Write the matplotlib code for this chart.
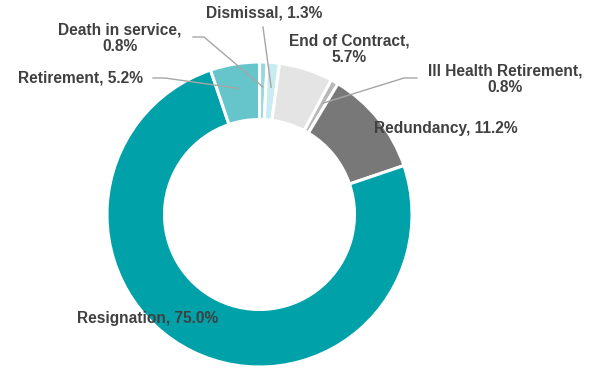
import numpy as np
import matplotlib
matplotlib.use("Agg")
from matplotlib import pyplot as plt

categories = ["Death in service", "Dismissal", "End of Contract", "Ill Health Retirement",
              "Redundancy", "Resignation", "Retirement"]
shares = [0.8, 1.3, 5.7, 0.8, 11.2, 75.0, 5.2]
label_texts = ["Death in service,\n0.8%", "Dismissal, 1.3%", "End of Contract,\n5.7%",
               "Ill Health Retirement,\n0.8%", "Redundancy, 11.2%", "Resignation, 75.0%",
               "Retirement, 5.2%"]
colors = ["#99d9dd", "#c8ecef", "#e4e4e4", "#b8b8b8", "#787878", "#00a1a8", "#66c5cb"]

W, H = 595, 368
cx, cy = 259.5, H - 214.5
R, ring = 152.5, 57.5

# label centres (pixels from top-left) and optional elbow for leader line
label_pos = [(120, 38), (264, 13), (349, 49), (505, 79), (446, 128), (148, 319), (80, 78)]
elbows = {0: [(204, 37), (193, 37)], 1: [(263, 27)], 3: [(404, 78), (417, 78)],
          6: [(165, 78), (153, 78)]}

fig = plt.figure(figsize=(W / 100, H / 100), dpi=100)
ax = fig.add_axes([0, 0, 1, 1])

wedges, _ = ax.pie(shares, colors=colors, startangle=90, counterclock=False,
                   center=(cx, cy), radius=R, frame=True,
                   wedgeprops=dict(width=ring, edgecolor="white", linewidth=2.2))
ax.set_xlim(0, W)
ax.set_ylim(0, H)
ax.set_aspect("equal")
ax.axis("off")

for i, w in enumerate(wedges):
    x, y = label_pos[i]
    ax.text(x, H - y, label_texts[i], ha="center", va="center", fontsize=11.2,
            fontweight="bold", color="#404040", family="Liberation Sans",
            linespacing=1.1, zorder=5)
    if i in elbows:
        ang = np.deg2rad((w.theta1 + w.theta2) / 2)
        r = R - ring / 2 + 4
        px, py = cx + r * np.cos(ang), cy + r * np.sin(ang)
        xs = [px] + [e[0] for e in elbows[i]]
        ys = [py] + [H - e[1] for e in elbows[i]]
        ax.plot(xs, ys, color="#a6a6a6", linewidth=1, zorder=4)

fig.savefig("out.png", dpi=100)
